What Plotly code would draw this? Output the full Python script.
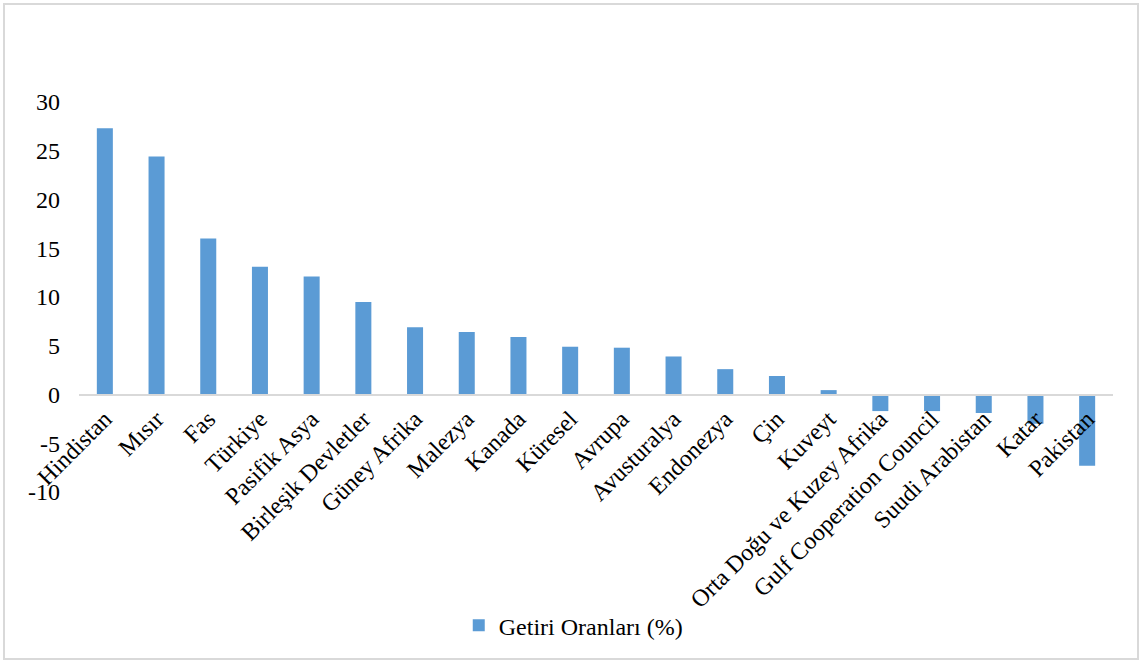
import plotly.graph_objects as go

categories = ["Hindistan", "Mısır", "Fas", "Türkiye", "Pasifik Asya", "Birleşik Devletler",
              "Güney Afrika", "Malezya", "Kanada", "Küresel", "Avrupa", "Avusturalya",
              "Endonezya", "Çin", "Kuveyt", "Orta Doğu ve Kuzey Afrika",
              "Gulf Cooperation Council", "Suudi Arabistan", "Katar", "Pakistan"]
values = [27.3, 24.4, 16.0, 13.1, 12.1, 9.5, 6.9, 6.4, 5.9, 4.9, 4.8, 3.9,
          2.6, 1.9, 0.45, -1.7, -1.7, -1.9, -3.0, -7.3]
series_name = "Getiri Oranları (%)"
y_ticks = [-10, -5, 0, 5, 10, 15, 20, 25, 30]
y_tick_text = ["-10", "-5", "0", "5", "10", "15", "20", "25", "30"]

FONT = "Liberation Serif, Times New Roman, serif"

fig = go.Figure()
fig.add_trace(go.Bar(x=categories, y=values, name=series_name,
                     marker=dict(color="#5B9BD5", line=dict(color="#5B9BD5", width=0))))

fig.update_layout(
    width=1141, height=663,
    margin=dict(l=79, r=28, t=102, b=171),
    paper_bgcolor="white", plot_bgcolor="white",
    font=dict(family=FONT, size=24, color="black"),
    bargap=0.69,
    showlegend=True,
    legend=dict(orientation="h", x=0.478, xanchor="center", y=-0.285, yanchor="top",
                itemwidth=30, font=dict(family=FONT, size=24)),
    xaxis=dict(anchor="free", position=0.25, showline=True, linecolor="#d9d9d9", linewidth=2,
               tickangle=-45, showgrid=False, ticks="", tickfont=dict(family=FONT, size=24)),
    yaxis=dict(range=[-10, 30], tickvals=y_ticks, ticktext=y_tick_text, showgrid=False,
               zeroline=False, showline=False, ticks="", ticklabelstandoff=18,
               tickfont=dict(family=FONT, size=24)),
    shapes=[dict(type="rect", xref="paper", yref="paper",
                 x0=-75/1034, x1=1+25/1034, y0=-167/390, y1=1+98/390,
                 line=dict(color="#d9d9d9", width=2), fillcolor="rgba(0,0,0,0)", layer="below")],
)

fig.write_html("out.html")
